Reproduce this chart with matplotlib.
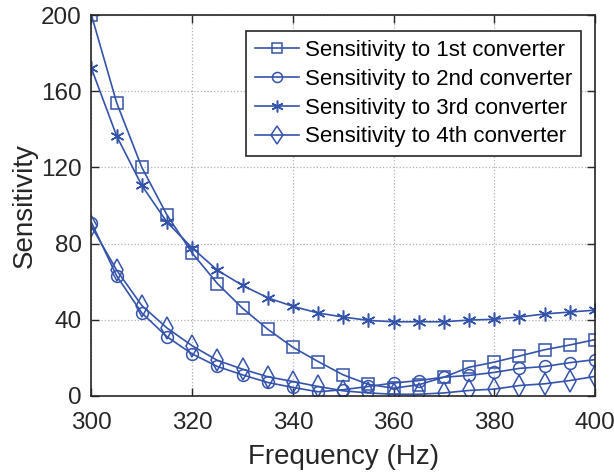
import matplotlib
matplotlib.use("Agg")
import matplotlib.pyplot as plt

plt.rcParams["font.family"] = ["Liberation Sans", "DejaVu Sans"]

freq = [300, 305, 310, 315, 320, 325, 330, 335, 340, 345, 350,
        355, 360, 365, 370, 375, 380, 385, 390, 395, 400]

sens_1st = [200, 154, 120, 95, 75, 59, 46, 35, 25.5, 18, 11,
            6, 4, 5.8, 9.8, 15, 17.7, 20.9, 24.2, 26.7, 29.5]
sens_2nd = [91, 63, 43.5, 31, 22, 15.4, 11, 7, 4.4, 2.1, 3.2,
            4.9, 6.7, 8, 9.8, 10.7, 12.3, 14.4, 15.4, 17.4, 19]
sens_3rd = [172, 136.5, 110.5, 91.2, 77.7, 66, 58, 51.5, 47, 43.5, 41.4,
            39.6, 38.9, 38.9, 38.9, 39.8, 40.2, 41.4, 43, 44, 45]
sens_4th = [89, 66, 47.4, 35.6, 26.3, 18.6, 14, 10, 7.5, 4.9, 2.6,
            1.5, 0.8, 0.8, 1.5, 2.8, 3.5, 5.4, 6.3, 8, 10.2]

labels = ["Sensitivity to 1st converter", "Sensitivity to 2nd converter",
          "Sensitivity to 3rd converter", "Sensitivity to 4th converter"]

blue = "#3453aa"
dark = "#262626"

fig = plt.figure(figsize=(6.14, 4.74), dpi=100)
ax = fig.add_axes([0.149, 0.165, 0.82, 0.803])

# marker style per series: (marker, size, hollow)
styles = [("s", 8, True), ("o", 8.5, True), ((6, 2, 0), 10, False), ("d", 11, True)]

for ys, lab, (m, ms, hollow) in zip([sens_1st, sens_2nd, sens_3rd, sens_4th], labels, styles):
    kw = dict(markerfacecolor="none") if hollow else {}
    ax.plot(freq, ys, color=blue, lw=1.2, marker=m, markersize=ms,
            markeredgewidth=1.1, label=lab, **kw)

ax.set_xlim(300, 400)
ax.set_ylim(0, 200)
ax.set_xticks([300, 320, 340, 360, 380, 400])
ax.set_yticks([0, 40, 80, 120, 160, 200])
ax.grid(True, linestyle=":", color="#b0b0b0", linewidth=0.9)
ax.tick_params(direction="in", labelsize=17.5, length=6, width=1,
               top=True, right=True, colors=dark)
ax.tick_params(axis="x", pad=12)
ax.tick_params(axis="y", pad=7)
for sp in ax.spines.values():
    sp.set_color(dark)
    sp.set_linewidth(1.2)

ax.set_xlabel("Frequency (Hz)", fontsize=20, color=dark, labelpad=7)
ax.set_ylabel("Sensitivity", fontsize=20, color=dark, labelpad=2)

leg = ax.legend(loc="upper right", bbox_to_anchor=(0.972, 0.958), fontsize=16,
                fancybox=False, edgecolor=dark, framealpha=1,
                handlelength=2.0, handletextpad=0.25, labelspacing=0.35,
                borderpad=0.4, borderaxespad=0, markerscale=0.85)
leg.get_frame().set_linewidth(1.2)

fig.savefig("out.png", dpi=100)
